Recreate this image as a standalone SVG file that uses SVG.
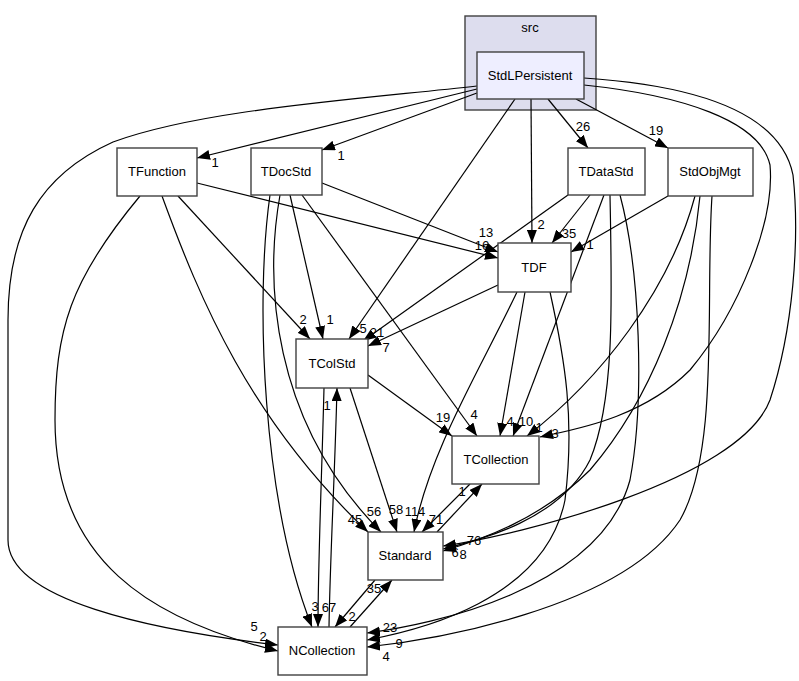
<svg xmlns="http://www.w3.org/2000/svg" width="799" height="681" viewBox="0 0 799 681">
<defs>
<marker id="ah" markerWidth="13" markerHeight="10" refX="13" refY="5" orient="auto" markerUnits="userSpaceOnUse"><path d="M0,0 L13,5 L0,10 z" fill="#000"/></marker>
<style>
.n rect{fill:#fff;stroke:#404040;stroke-width:1.4}
.t{font-family:"Liberation Sans",Arial,sans-serif;font-size:13px;text-anchor:middle;fill:#000}
.e path{fill:none;stroke:#000;stroke-width:1.2;marker-end:url(#ah)}
.l{font-family:"Liberation Sans",Arial,sans-serif;font-size:13px;fill:#000;text-anchor:middle}
</style>
</defs>
<rect width="799" height="681" fill="#fff"/>
<g id="cluster_src">
<rect x="465" y="16" width="131" height="94" fill="#ddddee" stroke="#404040" stroke-width="1.4"/>
<text class="t" x="530" y="32">src</text>
</g>
<g id="edges" class="e">
<path d="M477,89 L197,158"/>
<path d="M477,93 L322,150"/>
<path d="M477,86 C350,100 200,110 113,142 C40,175 8,230 8,320 L8,540 C8,600 150,630 278,645"/>
<path d="M515,99 L349,339"/>
<path d="M531,99 L532,243"/>
<path d="M548,99 L588,148"/>
<path d="M576,99 L668,148"/>
<path d="M584,85 C680,95 760,120 770,165 C775,220 740,310 690,370 C640,420 570,430 540,437"/>
<path d="M584,78 C690,85 780,110 793,175 C800,240 793,330 770,400 C740,480 520,535 443,546"/>
<path d="M197,183 L498,258"/>
<path d="M178,196 L310,339"/>
<path d="M162,196 C200,300 250,420 368,532"/>
<path d="M140,196 C70,280 55,330 55,420 C55,560 150,620 278,651"/>
<path d="M322,183 L498,252"/>
<path d="M290,195 L323,339"/>
<path d="M302,195 L477,436"/>
<path d="M280,195 C265,280 270,420 381,532"/>
<path d="M270,195 C255,300 262,500 312,627"/>
<path d="M568,195 L363,341"/>
<path d="M590,195 L552,243"/>
<path d="M604,195 L513,436"/>
<path d="M610,195 C612,300 615,400 590,460 C560,520 480,540 443,549"/>
<path d="M620,195 C640,270 645,400 630,480 C600,590 430,625 367,633"/>
<path d="M668,196 L571,252"/>
<path d="M695,196 C670,290 600,380 527,436"/>
<path d="M700,196 C690,300 650,400 590,470 C540,520 480,540 443,551"/>
<path d="M712,196 C705,300 720,450 680,520 C620,610 430,640 367,647"/>
<path d="M498,285 L368,346"/>
<path d="M525,292 L500,436"/>
<path d="M517,292 C480,370 430,450 414,532"/>
<path d="M550,292 C565,360 575,420 565,500 C545,600 420,630 367,640"/>
<path d="M368,375 L452,436"/>
<path d="M350,388 L397,532"/>
<path d="M324,388 C322,470 318,560 318,627"/>
<path d="M470,484 L422,532"/>
<path d="M437,532 L482,484"/>
<path d="M375,580 L335,627"/>
<path d="M350,627 L392,580"/>
<path d="M329,627 C330,560 335,470 337,388"/>
</g>
<g id="labels">
<text class="l" x="215" y="167">1</text>
<text class="l" x="341" y="160">1</text>
<text class="l" x="254" y="631">5</text>
<text class="l" x="263" y="641">2</text>
<text class="l" x="363" y="333">5</text>
<text class="l" x="541" y="229">2</text>
<text class="l" x="583" y="131">26</text>
<text class="l" x="656" y="135">19</text>
<text class="l" x="555" y="438">3</text>
<text class="l" x="539" y="432">1</text>
<text class="l" x="474" y="545">76</text>
<text class="l" x="455" y="557">6</text>
<text class="l" x="463" y="559">8</text>
<text class="l" x="486" y="237">13</text>
<text class="l" x="482" y="250">16</text>
<text class="l" x="303" y="324">2</text>
<text class="l" x="330" y="324">1</text>
<text class="l" x="377" y="337">21</text>
<text class="l" x="386" y="352">7</text>
<text class="l" x="569" y="238">35</text>
<text class="l" x="590" y="249">1</text>
<text class="l" x="443" y="422">19</text>
<text class="l" x="474" y="419">4</text>
<text class="l" x="510" y="426">4</text>
<text class="l" x="526" y="426">10</text>
<text class="l" x="355" y="524">45</text>
<text class="l" x="374" y="516">56</text>
<text class="l" x="396" y="514">58</text>
<text class="l" x="415" y="516">114</text>
<text class="l" x="436" y="524">71</text>
<text class="l" x="462" y="496">1</text>
<text class="l" x="374" y="593">35</text>
<text class="l" x="352" y="621">2</text>
<text class="l" x="315" y="611">3</text>
<text class="l" x="329" y="612">67</text>
<text class="l" x="327" y="410">1</text>
<text class="l" x="390" y="632">23</text>
<text class="l" x="399" y="648">9</text>
<text class="l" x="386" y="661">4</text>
</g>
<g id="StdLPersistent" class="n"><rect x="477" y="52" width="107" height="47" style="fill:#eeeeff"/><text class="t" x="530" y="80">StdLPersistent</text></g>
<g id="TFunction" class="n"><rect x="117" y="148" width="80" height="48"/><text class="t" x="157" y="176">TFunction</text></g>
<g id="TDocStd" class="n"><rect x="251" y="148" width="71" height="47"/><text class="t" x="286" y="176">TDocStd</text></g>
<g id="TDataStd" class="n"><rect x="568" y="148" width="77" height="47"/><text class="t" x="606" y="176">TDataStd</text></g>
<g id="StdObjMgt" class="n"><rect x="668" y="148" width="85" height="48"/><text class="t" x="710" y="176">StdObjMgt</text></g>
<g id="TDF" class="n"><rect x="498" y="243" width="73" height="49"/><text class="t" x="534" y="272">TDF</text></g>
<g id="TColStd" class="n"><rect x="296" y="339" width="72" height="49"/><text class="t" x="332" y="368">TColStd</text></g>
<g id="TCollection" class="n"><rect x="452" y="436" width="87" height="48"/><text class="t" x="496" y="464">TCollection</text></g>
<g id="Standard" class="n"><rect x="368" y="532" width="75" height="48"/><text class="t" x="405" y="560">Standard</text></g>
<g id="NCollection" class="n"><rect x="278" y="627" width="89" height="48"/><text class="t" x="322" y="655">NCollection</text></g>
</svg>
